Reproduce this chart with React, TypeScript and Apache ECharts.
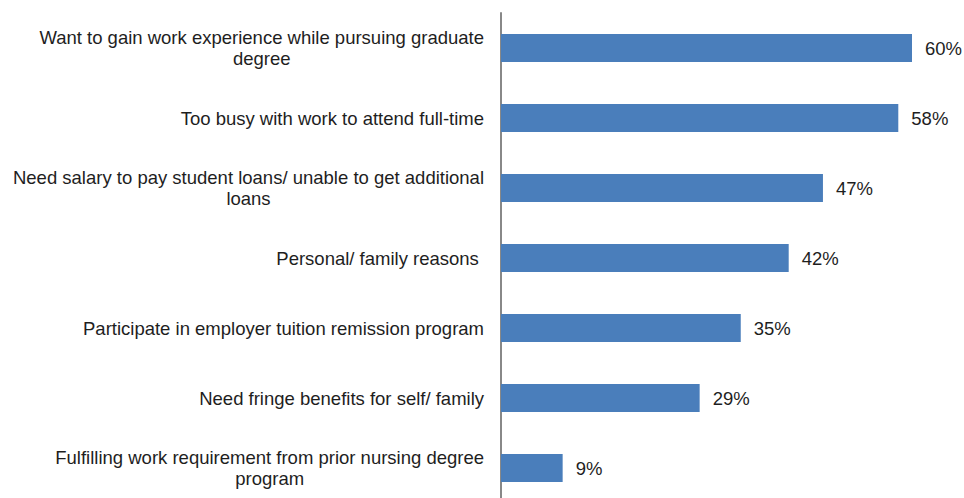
import React, { useEffect, useRef } from "react";
import * as echarts from "echarts";

const categories: string[] = [
  "Want to gain work experience while pursuing graduate\ndegree",
  "Too busy with work to attend full-time",
  "Need salary to pay student loans/ unable to get additional\nloans",
  "Personal/ family reasons ",
  "Participate in employer tuition remission program",
  "Need fringe benefits for self/ family",
  "Fulfilling work requirement from prior nursing degree\nprogram",
];

const values: number[] = [60, 58, 47, 42, 35, 29, 9];

const FONT = "'Liberation Sans', Arial, Helvetica, sans-serif";

export default function App() {
  const ref = useRef<HTMLDivElement>(null);

  useEffect(() => {
    if (!ref.current) return;
    const chart = echarts.init(ref.current, undefined, { renderer: "svg" });
    chart.setOption({
      animation: false,
      backgroundColor: "#ffffff",
      grid: { left: 501, top: 13, width: 411, height: 490, containLabel: false },
      xAxis: {
        type: "value",
        min: 0,
        max: 60,
        show: false,
      },
      yAxis: {
        type: "category",
        inverse: true,
        data: categories,
        axisLine: { show: true, lineStyle: { color: "#888888", width: 2 } },
        axisTick: { show: false },
        splitLine: { show: false },
        axisLabel: {
          margin: 17,
          align: "right",
          formatter: (v: string) =>
            v
              .split("\n")
              .map((l) => `{c|${l}}`)
              .join("\n"),
          rich: {
            c: {
              fontSize: 18.5,
              fontFamily: FONT,
              color: "#1e1e1e",
              lineHeight: 21,
              align: "center",
            },
          },
        },
      },
      series: [
        {
          type: "bar",
          data: values,
          barCategoryGap: "60%",
          itemStyle: { color: "#4a7ebb" },
          label: {
            show: true,
            position: "right",
            distance: 13,
            formatter: "{c}%",
            fontSize: 18.5,
            fontFamily: FONT,
            color: "#1e1e1e",
          },
        },
      ],
    });
    return () => chart.dispose();
  }, []);

  return (
    <div
      ref={ref}
      style={{ position: "fixed", left: 0, top: 0, width: 964, height: 510 }}
    />
  );
}
